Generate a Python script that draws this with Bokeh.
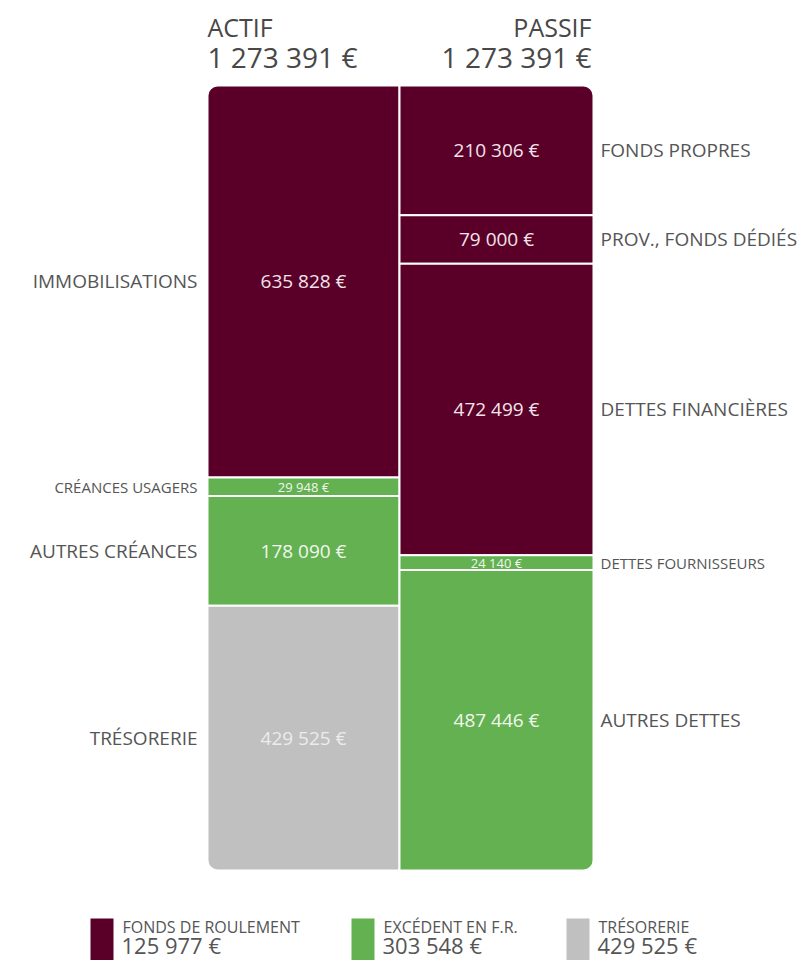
from bokeh.plotting import figure
from bokeh.models import Range1d
from bokeh.core.properties import value
from bokeh.embed import file_html
from bokeh.resources import INLINE

# ---------------- data ----------------
actif_labels = ["IMMOBILISATIONS", "CRÉANCES USAGERS", "AUTRES CRÉANCES", "TRÉSORERIE"]
actif_values = [635828, 29948, 178090, 429525]
actif_groups = ["fr", "exc", "exc", "tres"]

passif_labels = ["FONDS PROPRES", "PROV., FONDS DÉDIÉS", "DETTES FINANCIÈRES",
                 "DETTES FOURNISSEURS", "AUTRES DETTES"]
passif_values = [210306, 79000, 472499, 24140, 487446]
passif_groups = ["fr", "fr", "fr", "exc", "exc"]

column_titles = ["ACTIF", "PASSIF"]

legend_labels = ["FONDS DE ROULEMENT", "EXCÉDENT EN F.R.", "TRÉSORERIE"]
legend_values = [125977, 303548, 429525]
legend_groups = ["fr", "exc", "tres"]

# ---------------- style ----------------
COLORS = {"fr": "#5a0028", "exc": "#63b150", "tres": "#c0c0c0"}
VALUE_COLORS = {"fr": "#f2e4ea", "exc": "#f1f7ee", "tres": "#ececec"}
FONT = value("Open Sans")
LABEL_COLOR = "#555555"
TITLE_COLOR = "#484848"

W, H = 809, 960
BAR_TOP_PX = 85
BAR_PX = 785
T = sum(actif_values)
s = T / BAR_PX


def ypx(px):
    """data y for a pixel offset from the figure top"""
    return T + BAR_TOP_PX * s - px * s


def fmt(v):
    return f"{v:,}".replace(",", " ") + " €"


p = figure(width=W, height=H, x_range=Range1d(0, W), y_range=Range1d(ypx(H), ypx(0)),
           output_backend="svg", toolbar_location=None, min_border=0,
           background_fill_color="white", border_fill_color="white")
p.axis.visible = False
p.grid.visible = False
p.outline_line_color = None

COLS = [
    dict(labels=actif_labels, values=actif_values, groups=actif_groups,
         left=207, right=399, label_x=197, align="right",
         r_top=(10, 0, 0, 0), r_bot=(0, 0, 0, 10)),
    dict(labels=passif_labels, values=passif_values, groups=passif_groups,
         left=399, right=593, label_x=600, align="left",
         r_top=(0, 10, 0, 0), r_bot=(0, 0, 10, 0)),
]

for col in COLS:
    top = T
    n = len(col["values"])
    xc = (col["left"] + col["right"]) / 2
    for i, (lab, v, g) in enumerate(zip(col["labels"], col["values"], col["groups"])):
        bot = top - v
        if i == 0:
            r = col["r_top"]
        elif i == n - 1:
            r = col["r_bot"]
        else:
            r = 0
        p.quad(left=[col["left"]], right=[col["right"]], top=[top], bottom=[bot],
               fill_color=COLORS[g], line_color="white", line_width=2, border_radius=r)
        yc = (top + bot) / 2
        small = (v / s) < 30
        p.text(x=[xc], y=[yc], text=[fmt(v)], text_font=FONT,
               text_font_size="13px" if small else "19px",
               text_color=VALUE_COLORS[g], text_align="center", text_baseline="middle")
        p.text(x=[col["label_x"]], y=[yc], text=[lab], text_font=FONT,
               text_font_size="15px" if small else "19px",
               text_color=LABEL_COLOR, text_align=col["align"], text_baseline="middle")
        top = bot

# column titles
p.text(x=[207], y=[ypx(26)], text=[column_titles[0]], text_font=FONT, text_font_size="25px",
       text_color=TITLE_COLOR, text_align="left", text_baseline="middle")
p.text(x=[207], y=[ypx(56)], text=[fmt(sum(actif_values))], text_font=FONT, text_font_size="28px",
       text_color=TITLE_COLOR, text_align="left", text_baseline="middle")
p.text(x=[591], y=[ypx(26)], text=[column_titles[1]], text_font=FONT, text_font_size="25px",
       text_color=TITLE_COLOR, text_align="right", text_baseline="middle")
p.text(x=[591], y=[ypx(56)], text=[fmt(sum(passif_values))], text_font=FONT, text_font_size="28px",
       text_color=TITLE_COLOR, text_align="right", text_baseline="middle")

# legend
LEG_X = [90, 351, 566]
for lx, lab, v, g in zip(LEG_X, legend_labels, legend_values, legend_groups):
    p.quad(left=[lx], right=[lx + 23], top=[ypx(918)], bottom=[ypx(H)],
           fill_color=COLORS[g], line_color=None)
    p.text(x=[lx + 32], y=[ypx(926)], text=[lab], text_font=FONT, text_font_size="16px",
           text_color=LABEL_COLOR, text_align="left", text_baseline="middle")
    p.text(x=[lx + 31], y=[ypx(944)], text=[fmt(v)], text_font=FONT, text_font_size="22px",
           text_color=LABEL_COLOR, text_align="left", text_baseline="middle")

open("out.html", "w").write(file_html(p, INLINE))
